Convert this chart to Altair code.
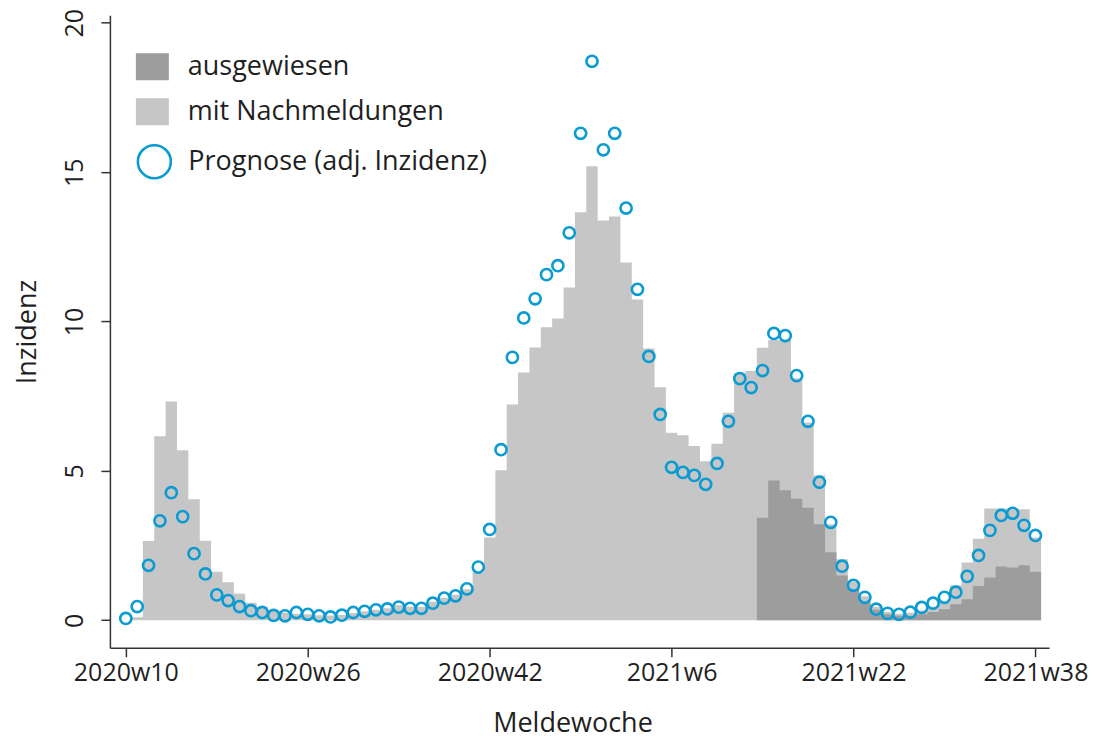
import altair as alt
import pandas as pd

# ---- data ----
week_index = list(range(81))  # 0 = 2020w10 ... 80 = 2021w38

prognose = [0.06, 0.46, 1.84, 3.33, 4.27, 3.47, 2.23, 1.55, 0.85, 0.66,
            0.46, 0.32, 0.26, 0.16, 0.15, 0.26, 0.20, 0.15, 0.11, 0.17,
            0.26, 0.30, 0.35, 0.38, 0.44, 0.40, 0.40, 0.57, 0.74, 0.82,
            1.05, 1.78, 3.04, 5.71, 8.80, 10.12, 10.76, 11.57, 11.87, 12.97,
            16.30, 18.71, 15.75, 16.30, 13.80, 11.08, 8.83, 6.89, 5.12, 4.95,
            4.85, 4.55, 5.25, 6.66, 8.09, 7.79, 8.36, 9.60, 9.53, 8.19,
            6.66, 4.62, 3.28, 1.81, 1.17, 0.77, 0.37, 0.23, 0.20, 0.27,
            0.43, 0.57, 0.77, 0.94, 1.47, 2.17, 3.01, 3.51, 3.58, 3.18,
            2.84]

nachmeldungen = [0.0, 0.10, 2.65, 6.16, 7.32, 5.69, 4.05, 2.66, 1.62, 1.27,
                 0.89, 0.59, 0.45, 0.33, 0.25, 0.22, 0.20, 0.17, 0.16, 0.18,
                 0.24, 0.30, 0.35, 0.40, 0.50, 0.45, 0.45, 0.62, 0.75, 0.85,
                 1.04, 1.60, 2.77, 5.02, 7.22, 8.29, 9.13, 9.81, 10.10, 11.14,
                 13.66, 15.20, 13.38, 13.52, 11.98, 10.74, 9.10, 7.80, 6.28, 6.19,
                 5.83, 5.32, 5.91, 6.95, 8.28, 8.34, 9.12, 9.38, 9.38, 8.10,
                 6.62, 4.85, 3.21, 2.04, 1.30, 0.80, 0.45, 0.28, 0.22, 0.25,
                 0.33, 0.45, 0.60, 1.17, 1.93, 2.73, 3.74, 3.74, 3.72, 3.72,
                 2.77]

ausgewiesen_start = 56
ausgewiesen = [3.43, 4.68, 4.35, 4.07, 3.77, 3.21, 2.28, 1.50, 1.05, 0.60,
               0.35, 0.20, 0.15, 0.15, 0.20, 0.28, 0.37, 0.54, 0.70, 1.15,
               1.43, 1.80, 1.77, 1.84, 1.62]

tick_positions = [0, 16, 32, 48, 64, 80]
tick_labels = ["2020w10", "2020w26", "2020w42", "2021w6", "2021w22", "2021w38"]

LBL_AUS = "ausgewiesen"
LBL_NACH = "mit Nachmeldungen"
LBL_PROG = "Prognose (adj. Inzidenz)"

# ---- step tables (left edge of each week, plus closing edge) ----
def step_rows(start, values, label):
    rows = []
    for k, v in enumerate(values):
        rows.append({"x": start + k - 0.5, "v": v, "type": label})
    rows.append({"x": start + len(values) - 0.5, "v": values[-1], "type": label})
    return rows

steps = pd.DataFrame(step_rows(1, nachmeldungen[1:], LBL_NACH)
                     + step_rows(ausgewiesen_start, ausgewiesen, LBL_AUS))
points = pd.DataFrame({"w": week_index, "p": prognose, "serie": LBL_PROG})

FONT = "Open Sans"
TXT = "#1f1f1f"
AX = "#333333"

label_expr = " : ".join(
    f"datum.value == {p} ? '{l}'" for p, l in zip(tick_positions, tick_labels)
) + " : ''"

x_scale = alt.Scale(domain=[-1.4, 81.2], nice=False, zero=False)
y_scale = alt.Scale(domain=[-0.92, 20.25], nice=False, zero=False)

x_axis = alt.Axis(values=tick_positions, labelExpr=label_expr, tickSize=9,
                  labelPadding=4, title="Meldewoche", titleX=463, titleY=76,
                  titleBaseline="middle", titleAlign="center")
y_axis = alt.Axis(values=[0, 5, 10, 15, 20], labelAngle=270, labelAlign="center",
                  labelBaseline="bottom", labelPadding=13, tickSize=9,
                  title="Inzidenz", titleAngle=270, titleX=-82, titleY=316.5,
                  titleAlign="center", titleBaseline="middle")

color_scale = alt.Scale(domain=[LBL_AUS, LBL_NACH], range=["#9d9d9d", "#c6c6c6"])
fill_legend = alt.Legend(title=None, orient="none", legendX=26, legendY=35,
                         symbolType="M-1,-0.82L1,-0.82L1,0.82L-1,0.82Z",
                         symbolSize=1089, symbolStrokeWidth=0,
                         labelFontSize=27, labelFont=FONT, labelColor=TXT,
                         labelOffset=19, labelLimit=0, rowPadding=14, padding=0)
stroke_legend = alt.Legend(title=None, orient="none", legendX=26.5, legendY=128.5,
                           symbolType="circle", symbolSize=1089,
                           symbolStrokeWidth=2.6,
                           labelFontSize=27, labelFont=FONT, labelColor=TXT,
                           labelOffset=16, labelLimit=0, padding=0)

base = alt.Chart(steps)
light = base.transform_filter(alt.datum.type == LBL_NACH).mark_area(
    interpolate="step-after", strokeWidth=0).encode(
    x=alt.X("x:Q", scale=x_scale, axis=x_axis),
    y=alt.Y("v:Q", scale=y_scale, axis=y_axis, stack=None),
    y2=alt.datum(0),
    color=alt.Color("type:N", scale=color_scale, legend=fill_legend),
)
dark = base.transform_filter(alt.datum.type == LBL_AUS).mark_area(
    interpolate="step-after", strokeWidth=0).encode(
    x=alt.X("x:Q", scale=x_scale),
    y=alt.Y("v:Q", scale=y_scale, stack=None),
    y2=alt.datum(0),
    color=alt.Color("type:N", scale=color_scale, legend=fill_legend),
)
circles = alt.Chart(points).mark_point(shape="circle", filled=False, size=125,
                                       strokeWidth=2.6, opacity=1).encode(
    x=alt.X("w:Q", scale=x_scale),
    y=alt.Y("p:Q", scale=y_scale),
    stroke=alt.Stroke("serie:N", scale=alt.Scale(domain=[LBL_PROG], range=["#0a9bd2"]),
                      legend=stroke_legend),
)

chart = alt.layer(light, dark, circles).properties(
    width=940, height=633,
    padding={"left": 102, "top": 7, "right": 50, "bottom": 95},
    autosize=alt.AutoSizeParams(type="none"),
).configure_view(stroke=None).configure_axis(
    grid=False, domainColor=AX, domainWidth=1.5, tickColor=AX, tickWidth=1.5,
    labelFont=FONT, labelFontSize=25, labelColor=TXT,
    titleFont=FONT, titleFontSize=27, titleFontWeight="normal", titleColor=TXT,
).configure_legend(labelFont=FONT)

chart.save("out.html", embed_options={"renderer": "svg", "actions": False})
